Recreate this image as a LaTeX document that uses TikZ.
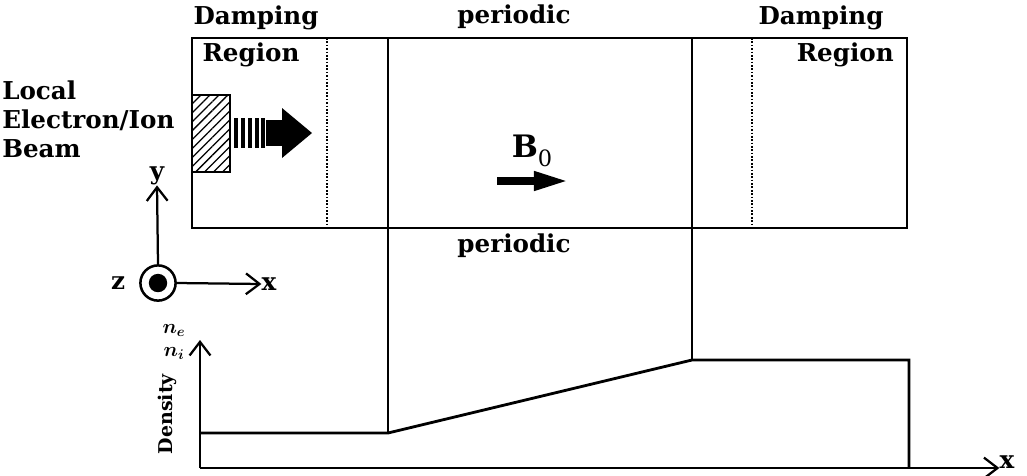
\documentclass[tikz,border=0pt]{standalone}
\usepackage{tikz}
\usetikzlibrary{arrows.meta, positioning, calc, patterns.meta}
\usepackage{amsmath, amssymb}
\usepackage{fontspec}
\newfontfamily\lblfont{DejaVu Serif}

\begin{document}
\begin{tikzpicture}[x=0.025cm, y=-0.025cm,
  lbl/.style={font=\lblfont\fontsize{17.5}{20.5}\selectfont\bfseries, inner sep=0pt},
  wall/.style={line width=2pt},
  dotwall/.style={line width=2pt, dash pattern=on 1.2pt off 1.2pt},
  axis/.style={line width=1.6pt, -{Straight Barb[length=0.34cm, width=0.52cm, line width=1.6pt]}}]
  \useasboundingbox (0,0) rectangle (1027,475);

  % simulation box and region walls
  \coordinate (boxNW) at (192,38);
  \coordinate (boxSE) at (907,228);
  \draw[wall] (boxNW) rectangle (boxSE);
  \coordinate (dotL) at (327,38);
  \coordinate (dotR) at (752,38);
  \draw[dotwall] (dotL) -- (dotL |- boxSE);
  \draw[dotwall] (dotR) -- (dotR |- boxSE);

  % labels round the box
  \node[lbl] (dampL) at (256,18) {Damping};
  \node[lbl] (regL) at (251,55) {Region};
  \node[lbl] (perT) at (514,17) {periodic};
  \node[lbl] (dampR) at (821,18) {Damping};
  \node[lbl, anchor=east] (regR) at (894,55) {Region};
  \node[lbl] (perB) at (514,246) {periodic};
  \node[lbl, align=left, anchor=west] (beamlbl) at (2,119) {Local\\Electron/Ion\\Beam};

  % beam source and its arrow
  \coordinate (srcNW) at (192,95);
  \coordinate (srcSE) at (230,172);
  \draw[line width=1.8pt, pattern={Lines[angle=45, distance=4.5pt, line width=0.9pt]}] (srcNW) rectangle (srcSE);
  \foreach \bx in {234,241,248,255,261}
    \fill (\bx,118) rectangle ++(4,30);
  \fill (266,120) rectangle (284,146);
  \fill (282,108) -- (312,133) -- (282,158) -- cycle;

  % magnetic field
  \node[lbl, font=\lblfont\fontsize{22}{24}\selectfont\bfseries] (bfield) at (532,151) {B\raisebox{-0.3em}{\fontsize{16}{17}\selectfont\mdseries 0}};
  \coordinate (bstart) at (497,181);
  \coordinate (bend) at (568,181);
  \draw[line width=5pt, -{Triangle[length=0.85cm, width=0.45cm]}] (bstart) -- (bend);

  % coordinate triad
  \node[draw, circle, line width=1.8pt, minimum size=0.88cm, inner sep=0pt] (zax) at (158,283) {};
  \fill (zax.center) circle (0.23cm);
  \node[lbl] (ylab) at (157,176) {y};
  \node[lbl] (xlab) at (269,284) {x};
  \node[lbl] (zlab) at (118,283) {z};
  \draw[axis] (zax.north) -- (ylab.south);
  \draw[axis] (zax.east) -- (xlab.west);

  % density profile
  \coordinate (dO) at (200,468);
  \coordinate (rampA) at (388,433);
  \coordinate (rampB) at (692,360);
  \coordinate (dEnd) at (909,360);
  \draw[wall] (388,38) -- (rampA);
  \draw[wall] (692,38) -- (rampB);
  \draw[wall] (dO |- rampA) -- (rampA) -- (rampB) -- (dEnd) -- (dEnd |- dO);
  \node[lbl] (xden) at (1007,462) {x};
  \coordinate (ytop) at (200,340);
  \draw[axis] (dO) -- (ytop);
  \draw[axis] (dO) -- (xden.west |- dO);
  \node[font=\fontsize{14}{16}\selectfont, align=center, inner sep=0pt] (nlab) at (174,342) {$\boldsymbol{n_e}$\\$\boldsymbol{n_i}$};
  \node[lbl, rotate=90, font=\lblfont\fontsize{13.5}{16}\selectfont\bfseries] (dens) at (167,414) {Density};
\end{tikzpicture}
\end{document}
